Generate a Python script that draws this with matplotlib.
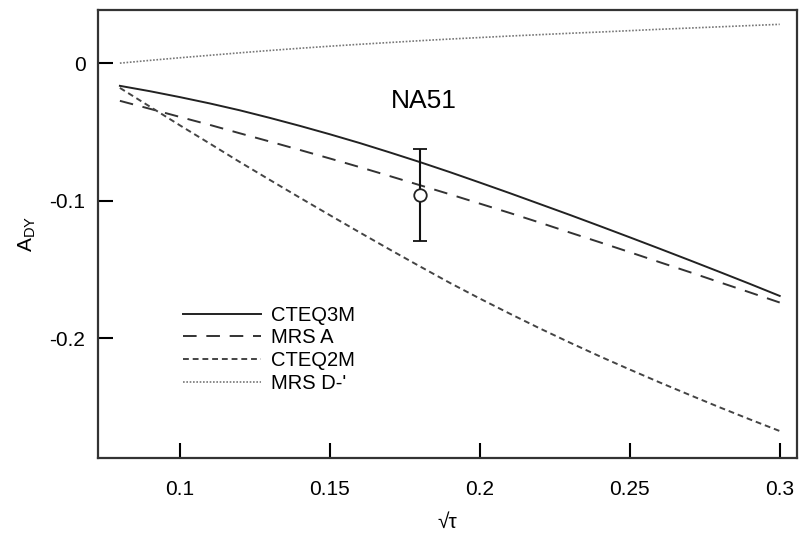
import numpy as np
import matplotlib.pyplot as plt

plt.rcParams['font.family'] = ['Liberation Sans', 'DejaVu Sans']

# sqrt(tau) grid, 0.08 .. 0.30
sqrt_tau = [0.08, 0.09, 0.10, 0.11, 0.12, 0.13, 0.14, 0.15, 0.16, 0.17, 0.18, 0.19,
            0.20, 0.21, 0.22, 0.23, 0.24, 0.25, 0.26, 0.27, 0.28, 0.29, 0.30]

# predicted Drell-Yan asymmetry for each parton set
cteq3m = [-0.0165, -0.0204, -0.0247, -0.0293, -0.0343, -0.0398, -0.0456, -0.0517,
          -0.0581, -0.0649, -0.0719, -0.0792, -0.0868, -0.0945, -0.1024, -0.1103,
          -0.1184, -0.1266, -0.1349, -0.1433, -0.1518, -0.1604, -0.1692]
mrs_a = [-0.0274, -0.0332, -0.0391, -0.0449, -0.0510, -0.0570, -0.0631, -0.0693,
         -0.0756, -0.0821, -0.0887, -0.0953, -0.1021, -0.1089, -0.1159, -0.1231,
         -0.1302, -0.1374, -0.1447, -0.1519, -0.1593, -0.1666, -0.1740]
cteq2m = [-0.0180, -0.0316, -0.0452, -0.0585, -0.0719, -0.0849, -0.0978, -0.1105,
          -0.1231, -0.1355, -0.1477, -0.1597, -0.1711, -0.1821, -0.1928, -0.2031,
          -0.2131, -0.2227, -0.2321, -0.2412, -0.2502, -0.2589, -0.2674]
mrs_d = [0.0000, 0.0020, 0.0039, 0.0057, 0.0075, 0.0092, 0.0108, 0.0123, 0.0137,
         0.0150, 0.0163, 0.0175, 0.0186, 0.0197, 0.0207, 0.0217, 0.0226, 0.0236,
         0.0246, 0.0255, 0.0264, 0.0273, 0.0282]

# NA51 measurement
na51_x = [0.18]
na51_y = [-0.096]
na51_err = [0.0335]

fig = plt.figure(figsize=(8, 5.42), dpi=100)
ax = fig.add_axes([0.1225, 0.155, 0.8735, 0.8265])

ax.plot(sqrt_tau, cteq3m, color='#222222', lw=1.4, ls='-', label='CTEQ3M')
ax.plot(sqrt_tau, mrs_a, color='#333333', lw=1.4, ls=(0, (7, 5)), label='MRS A')
ax.plot(sqrt_tau, cteq2m, color='#444444', lw=1.4, ls=(0, (3, 2)), label='CTEQ2M')
ax.plot(sqrt_tau, mrs_d, color='#777777', lw=1.2, ls=(0, (1, 1)), label="MRS D-'")

ax.errorbar(na51_x, na51_y, yerr=na51_err, fmt='o', mfc='white', mec='#222222',
            ms=9, mew=1.3, ecolor='#111111', elinewidth=1.5, capsize=4.7, capthick=1.5)
ax.text(0.1815, -0.0275, 'NA51', fontsize=19, ha='center', va='center')

ax.set_xlim(0.0727, 0.3057)
ax.set_ylim(-0.287, 0.0386)
ax.set_xticks([0.1, 0.15, 0.2, 0.25, 0.3])
ax.set_xticklabels(['0.1', '0.15', '0.2', '0.25', '0.3'])
ax.set_yticks([0, -0.1, -0.2])
ax.set_yticklabels(['0', '-0.1', '-0.2'])
ax.tick_params(direction='in', length=11, width=1.5, labelsize=15)
ax.tick_params(axis='x', pad=16)
ax.tick_params(axis='y', pad=9)

for s in ax.spines.values():
    s.set_linewidth(1.6)
    s.set_color('#333333')

ax.set_xlabel('√τ', fontsize=15, labelpad=10)
ax.set_ylabel(r'A$_{\mathregular{DY}}$', fontsize=15, labelpad=8)

leg = ax.legend(loc='lower left', bbox_to_anchor=(0.11, 0.128), frameon=False,
                fontsize=14.5, handlelength=3.9, handletextpad=0.45,
                labelspacing=0.18, borderaxespad=0)

fig.savefig('out.png', dpi=100)
